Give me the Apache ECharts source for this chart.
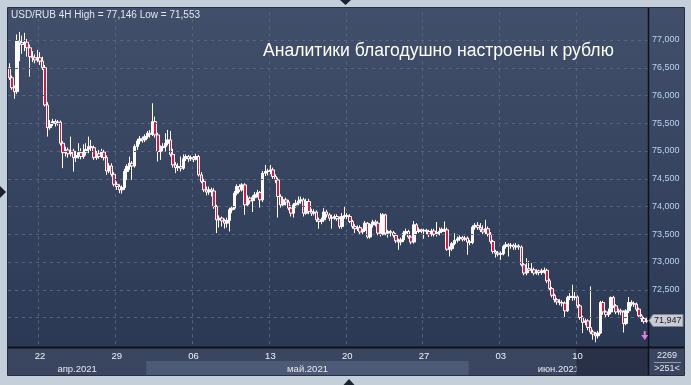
<!DOCTYPE html>
<html>
<head>
<meta charset="utf-8">
<script src="https://cdn.jsdelivr.net/npm/echarts@6/dist/echarts.min.js"></script>
<style>
html,body{margin:0;padding:0;background:#c4cfda;overflow:hidden;}
#chart{width:691px;height:385px;}
</style>
</head>
<body>
<div id="chart"></div>
<script>
// ---- data (USD/RUB, 4H bars) ----
const opens = [
76.50,76.32,76.14,76.07,76.98,76.95,76.92,76.96,76.86,76.70,
76.68,76.64,76.68,76.62,76.50,75.83,75.42,75.50,75.53,75.50,
75.52,75.14,74.97,75.02,74.95,75.00,74.88,74.92,74.97,74.90,
74.98,75.03,75.08,75.06,74.88,74.95,74.90,74.98,74.88,74.64,
74.73,74.58,74.40,74.36,74.30,74.34,74.63,74.72,74.78,74.73,
75.08,75.18,75.22,75.20,75.26,75.32,75.30,75.53,75.29,74.99,
75.06,75.08,75.14,75.20,74.94,74.75,74.70,74.72,74.69,74.86,
74.90,74.86,74.88,74.85,74.90,74.57,74.45,74.30,74.26,74.30,
74.28,74.00,73.76,73.79,73.74,73.70,73.75,73.94,73.97,74.24,
74.36,74.30,74.39,74.03,74.15,74.10,74.16,74.21,74.25,74.12,
74.60,74.63,74.64,74.66,74.54,74.48,74.18,74.03,74.12,74.08,
73.97,73.88,74.03,74.06,74.10,74.12,73.88,74.09,73.91,73.88,
73.90,73.76,73.73,73.76,73.90,73.85,73.79,73.80,73.82,73.78,
73.64,73.82,73.84,73.82,73.73,73.64,73.60,73.62,73.54,73.57,
73.70,73.45,73.67,73.72,73.70,73.52,73.50,73.85,73.52,73.55,
73.53,73.48,73.38,73.36,73.40,73.52,73.55,73.45,73.36,73.67,
73.55,73.58,73.56,73.57,73.55,73.50,73.56,73.50,73.53,73.55,
73.59,73.58,73.23,73.24,73.33,73.39,73.42,73.44,73.41,73.43,
73.36,73.35,73.63,73.66,73.62,73.58,73.54,73.60,73.50,73.37,
73.19,73.16,73.14,73.15,73.28,73.31,73.29,73.30,73.27,73.29,
73.27,72.95,72.80,72.88,72.85,72.86,72.80,72.84,72.81,72.84,
72.85,72.66,72.52,72.40,72.32,72.28,72.27,72.26,72.12,72.36,
72.38,72.36,72.37,72.21,72.00,71.91,71.94,71.82,71.74,71.70,
71.67,71.72,72.27,72.10,72.05,72.10,72.36,72.21,72.10,72.12,
72.10,71.89,72.12,72.27,72.25,72.24,72.15,72.03,71.98,71.93
];
const closes = [
76.32,76.14,76.07,76.98,76.95,76.92,76.96,76.86,76.70,76.68,
76.64,76.68,76.62,76.50,75.83,75.42,75.50,75.53,75.50,75.52,
75.14,74.97,75.02,74.95,75.00,74.88,74.92,74.97,74.90,74.98,
75.03,75.08,75.06,74.88,74.95,74.90,74.98,74.88,74.64,74.73,
74.58,74.40,74.36,74.30,74.34,74.63,74.72,74.78,74.73,75.08,
75.18,75.22,75.20,75.26,75.32,75.30,75.53,75.29,74.99,75.06,
75.08,75.14,75.20,74.94,74.75,74.70,74.72,74.69,74.86,74.90,
74.86,74.88,74.85,74.90,74.57,74.45,74.30,74.26,74.30,74.28,
74.00,73.76,73.79,73.74,73.70,73.75,73.94,73.97,74.24,74.36,
74.30,74.39,74.03,74.15,74.10,74.16,74.21,74.25,74.12,74.60,
74.63,74.64,74.66,74.54,74.48,74.18,74.03,74.12,74.08,73.97,
73.88,74.03,74.06,74.10,74.12,73.88,74.09,73.91,73.88,73.90,
73.76,73.73,73.76,73.90,73.85,73.79,73.80,73.82,73.78,73.64,
73.82,73.84,73.82,73.73,73.64,73.60,73.62,73.54,73.57,73.70,
73.45,73.67,73.72,73.70,73.52,73.50,73.85,73.52,73.55,73.53,
73.48,73.38,73.36,73.40,73.52,73.55,73.45,73.36,73.67,73.55,
73.58,73.56,73.57,73.55,73.50,73.56,73.50,73.53,73.55,73.59,
73.58,73.23,73.24,73.33,73.39,73.42,73.44,73.41,73.43,73.36,
73.35,73.63,73.66,73.62,73.58,73.54,73.60,73.50,73.37,73.19,
73.16,73.14,73.15,73.28,73.31,73.29,73.30,73.27,73.29,73.27,
72.95,72.80,72.88,72.85,72.86,72.80,72.84,72.81,72.84,72.85,
72.66,72.52,72.40,72.32,72.28,72.27,72.26,72.12,72.36,72.38,
72.36,72.37,72.21,72.00,71.91,71.94,71.82,71.74,71.70,71.67,
71.72,72.27,72.10,72.05,72.10,72.36,72.21,72.10,72.12,72.10,
71.89,72.12,72.27,72.25,72.24,72.15,72.03,71.98,71.93,71.947
];
const lows = [
76.28,76.10,75.94,76.03,76.62,76.75,76.80,76.70,76.34,76.60,
76.58,76.60,76.55,76.46,75.80,75.26,75.38,75.45,75.44,75.46,
75.10,74.69,74.90,74.88,74.90,74.63,74.80,74.86,74.85,74.86,
74.92,74.96,75.00,74.84,74.84,74.86,74.87,74.83,74.57,74.60,
74.54,74.36,74.30,74.24,74.23,74.30,74.48,74.66,74.48,74.70,
75.02,75.12,75.15,75.16,75.22,75.24,75.27,75.24,74.81,74.84,
74.98,74.99,75.10,74.90,74.70,74.60,74.64,74.63,74.66,74.82,
74.80,74.82,74.80,74.83,74.54,74.42,74.26,74.20,74.21,74.18,
73.96,73.52,73.62,73.64,73.60,73.62,73.55,73.88,73.94,74.20,
74.26,74.27,73.85,74.00,74.05,73.90,74.10,74.16,73.98,74.08,
74.55,74.56,74.58,74.50,74.42,73.80,73.98,74.00,74.02,73.93,
73.82,73.80,73.98,74.02,74.05,73.82,73.85,73.86,73.83,73.84,
73.72,73.60,73.68,73.72,73.80,73.74,73.60,73.76,73.74,73.60,
73.60,73.78,73.77,73.70,73.60,73.52,73.56,73.50,73.50,73.54,
73.42,73.42,73.62,73.64,73.48,73.46,73.48,73.48,73.44,73.46,
73.44,73.34,73.22,73.30,73.36,73.48,73.42,73.32,73.33,73.50,
73.52,73.52,73.42,73.50,73.45,73.46,73.46,73.46,73.48,73.52,
73.54,73.20,73.10,73.20,73.30,73.35,73.38,73.37,73.38,73.13,
73.30,73.32,73.58,73.58,73.54,73.50,73.50,73.46,73.33,73.15,
73.08,73.10,73.04,73.12,73.24,73.10,73.24,73.22,73.22,73.22,
72.92,72.76,72.76,72.80,72.80,72.76,72.77,72.76,72.77,72.79,
72.62,72.48,72.36,72.27,72.23,72.22,72.20,72.01,72.10,72.31,
72.30,72.31,72.17,71.96,71.72,71.86,71.77,71.70,71.60,71.553,
71.62,71.70,72.05,72.00,72.01,72.06,72.17,72.06,72.05,72.04,
71.73,71.86,72.08,72.20,72.19,72.11,71.99,71.92,71.89,71.90
];
const highs = [
76.58,76.36,76.18,77.10,77.146,77.08,77.13,77.02,76.92,76.80,
76.74,76.82,76.78,76.70,76.55,75.88,75.56,75.58,75.57,75.56,
75.55,75.18,75.08,75.06,75.26,75.04,75.00,75.14,75.05,75.12,
75.14,75.26,75.20,75.10,75.00,75.02,75.04,75.02,74.92,74.78,
74.78,74.62,74.45,74.40,74.38,74.68,74.76,74.90,74.82,75.12,
75.22,75.27,75.26,75.30,75.36,75.38,75.86,75.62,75.33,75.10,
75.14,75.32,75.38,75.36,75.04,74.80,74.78,74.90,74.94,74.94,
74.93,74.92,74.91,74.95,74.93,74.62,74.50,74.36,74.36,74.34,
74.33,74.03,73.84,73.82,73.78,73.80,73.98,74.00,74.28,74.40,
74.40,74.42,74.42,74.20,74.18,74.20,74.26,74.30,74.28,74.64,
74.75,74.68,74.75,74.70,74.58,74.52,74.22,74.18,74.16,74.12,
74.02,74.06,74.12,74.18,74.18,74.16,74.14,74.14,73.96,73.95,
73.93,73.80,73.80,73.97,73.94,73.88,73.85,73.86,73.86,73.82,
73.88,74.00,73.88,73.86,73.76,73.68,73.66,73.66,73.60,73.74,
73.72,73.70,73.76,73.76,73.74,73.88,73.88,73.87,73.58,73.58,
73.56,73.52,73.42,73.44,73.56,73.60,73.58,73.48,73.74,73.70,
73.62,73.60,73.60,73.60,73.58,73.60,73.60,73.72,73.62,73.62,
73.73,73.62,73.28,73.36,73.52,73.46,73.48,73.47,73.47,73.46,
73.40,73.66,73.70,73.72,73.70,73.66,73.76,73.64,73.54,73.40,
73.22,73.20,73.19,73.31,73.36,73.34,73.34,73.33,73.34,73.32,
73.30,72.98,73.07,73.02,72.98,72.90,72.87,72.86,72.88,72.90,
72.88,72.70,72.55,72.43,72.35,72.33,72.31,72.29,72.39,72.44,
72.59,72.46,72.40,72.24,72.03,71.98,71.97,72.56,71.78,71.74,
71.76,72.30,72.30,72.13,72.16,72.38,72.39,72.24,72.16,72.16,
72.13,72.15,72.37,72.31,72.29,72.27,72.18,72.06,72.01,71.99
];
const priceGridLines = [72.0, 72.5, 73.0, 73.5, 74.0, 74.5, 75.0, 75.5, 76.0, 76.5, 77.0];
const labelMin = 72.5, labelMax = 77.0;
const monthNames = ['янв','фев','мар','апр','май','июн','июл','авг','сен','окт','ноя','дек'];
const symbolText = 'USD/RUB 4H';
const titleText = 'Аналитики благодушно настроены к рублю';
const totalBarsText = '2269';
const visibleBarsText = '>251<';

// ---- time categories: 4H bars, Mon-Fri ----
const pad = n => (n < 10 ? '0' : '') + n;
const N = closes.length;
const dates = [];
const cats = [];
let t = Date.UTC(2021, 3, 20, 0, 0);
while (cats.length < N) {
  const d = new Date(t);
  const wd = d.getUTCDay();
  if (wd >= 1 && wd <= 5) {
    dates.push(d);
    cats.push(pad(d.getUTCDate()) + '.' + pad(d.getUTCMonth() + 1) + '.' + d.getUTCFullYear() + ' ' + pad(d.getUTCHours()) + ':00');
  }
  t += 4 * 3600 * 1000;
}
const weekIdx = new Set();
dates.forEach((d, i) => { if (d.getUTCDay() === 4 && d.getUTCHours() === 0) weekIdx.add(i); });
const months = [];
dates.forEach((d, i) => {
  if (i === 0 || d.getUTCMonth() !== dates[i - 1].getUTCMonth()) {
    months.push({ start: i, label: monthNames[d.getUTCMonth()] + '.' + d.getUTCFullYear() });
  }
});
months.forEach((m, k) => { m.end = k + 1 < months.length ? months[k + 1].start : N; });

const fmt3 = v => v.toFixed(3).replace('.', ',');
const hi = Math.max(...highs), lo = Math.min(...lows);
const FONT = "'Liberation Sans', Arial, sans-serif";

const chart = echarts.init(document.getElementById('chart'), null, { renderer: 'canvas' });
const option = {
  animation: false,
  backgroundColor: 'transparent',
  textStyle: { fontFamily: FONT },
  grid: { left: 8, right: 43, top: 12.25, bottom: 39.75, containLabel: false },
  xAxis: {
    type: 'category', data: cats, boundaryGap: true,
    axisLine: { show: false }, axisTick: { show: false },
    axisLabel: {
      interval: (i) => weekIdx.has(i),
      formatter: (v) => v.slice(0, 2),
      color: '#eef2f7', fontSize: 9.5, margin: 6, fontFamily: FONT
    },
    splitLine: { show: true, interval: (i) => weekIdx.has(i), lineStyle: { color: '#56657f', type: [3, 4], width: 1 } }
  },
  yAxis: {
    type: 'value', position: 'right', min: 71.5, max: 77.5, interval: 0.5, scale: true,
    axisLine: { show: false }, axisTick: { show: false }, splitLine: { show: false },
    axisLabel: {
      formatter: v => (v >= labelMin - 1e-9 && v <= labelMax + 1e-9) ? fmt3(v) : '',
      color: '#b9d4f2', fontSize: 9, margin: 4, fontFamily: FONT
    }
  },
  series: [
    {
      type: 'line', data: [], silent: true, z: 1,
      markLine: {
        silent: true, symbol: ['none', 'none'], label: { show: false }, animation: false,
        lineStyle: { color: '#56657f', type: [3, 4], width: 1 },
        data: priceGridLines.map(v => ({ yAxis: v }))
      }
    },
    {
      type: 'candlestick', z: 3, barWidth: 3,
      data: opens.map((o, i) => [o, closes[i], lows[i], highs[i]]),
      itemStyle: { color: '#ffffff', color0: '#e8123c', borderColor: '#ffffff', borderColor0: '#ffffff', borderWidth: 1 }
    }
  ]
};
chart.setOption(option);

// ---- decorations placed from the axes ----
const xPix = i => chart.convertToPixel({ xAxisIndex: 0 }, i);
const yPix = v => chart.convertToPixel({ yAxisIndex: 0 }, v);
const band = xPix(1) - xPix(0);
const edge = i => xPix(i) - band / 2;
const plotL = edge(0), plotR = edge(0) + band * N;
const axisY = 347.5, panelTop = 8, panelBot = 375, colR = 684;

const G = [];
G.push({ type: 'rect', z: -30, silent: true, shape: { x: 7.5, y: 7.5, width: colR - 7, height: panelBot - 7 }, style: { fill: '#3a4660', stroke: '#263044', lineWidth: 1 } });
G.push({ type: 'rect', z: -29, silent: true, shape: { x: 8, y: panelTop, width: colR - 8, height: axisY - panelTop },
  style: { fill: { type: 'linear', x: 0, y: 0, x2: 0, y2: 1, colorStops: [{ offset: 0, color: '#424f6a' }, { offset: 1, color: '#2c3954' }] } } });
// month bands and labels
months.forEach((m, k) => {
  const x0 = Math.max(plotL, edge(m.start)), x1 = Math.min(plotR, edge(m.start) + band * (m.end - m.start));
  if (k % 2 === 1) {
    G.push({ type: 'rect', z: -25, silent: true, shape: { x: x0, y: 361, width: x1 - x0, height: panelBot - 361 }, style: { fill: '#4c5a76' } });
  }
  G.push({ type: 'text', z: -20, silent: true, style: { text: m.label, x: (x0 + x1) / 2, y: 369, align: 'center', verticalAlign: 'middle', fill: '#e4e9f0', font: '9.5px ' + FONT } });
});
// dark box from the last week line to the price column
const weeks = [...weekIdx].sort((a, b) => a - b);
const lastWeek = weeks[weeks.length - 1];
G.push({ type: 'rect', z: -15, silent: true, shape: { x: edge(lastWeek), y: axisY + 1, width: plotR - edge(lastWeek), height: panelBot - axisY - 1 }, style: { fill: '#283147' } });
// separators
G.push({ type: 'line', z: 50, silent: true, shape: { x1: 8, y1: axisY, x2: colR, y2: axisY }, style: { stroke: '#0d1118', lineWidth: 2 } });
G.push({ type: 'line', z: 50, silent: true, shape: { x1: plotR + 0.5, y1: panelTop, x2: plotR + 0.5, y2: panelBot }, style: { stroke: '#0d1118', lineWidth: 1.5 } });
// bottom-right cell
G.push({ type: 'text', z: 50, silent: true, style: { text: totalBarsText, x: 667, y: 356, align: 'center', verticalAlign: 'middle', fill: '#e4e9f0', font: '9px ' + FONT } });
G.push({ type: 'line', z: 50, silent: true, shape: { x1: 654, y1: 362.5, x2: 681, y2: 362.5 }, style: { stroke: '#8f9bb0', lineWidth: 1 } });
G.push({ type: 'text', z: 50, silent: true, style: { text: visibleBarsText, x: 667, y: 369, align: 'center', verticalAlign: 'middle', fill: '#e4e9f0', font: '9px ' + FONT } });
// header and title
G.push({ type: 'text', z: 50, silent: true, style: { text: symbolText + ' High = ' + fmt3(hi) + ' Low = ' + fmt3(lo), x: 11, y: 15, verticalAlign: 'middle', fill: '#dfe7f1', font: '10px ' + FONT } });
G.push({ type: 'text', z: 50, silent: true, style: { text: titleText, x: 263, y: 51, verticalAlign: 'middle', fill: '#ffffff', font: '17.6px ' + FONT } });
// current price tag
const lastClose = closes[N - 1];
const py = Math.round(yPix(lastClose)) + 0.5;
G.push({ type: 'polygon', z: 60, silent: true, shape: { points: [[plotR + 1, py], [plotR + 5, py - 6], [colR - 1, py - 6], [colR - 1, py + 6], [plotR + 5, py + 6]] }, style: { fill: '#c9cdd3', stroke: '#7c8594', lineWidth: 1 } });
G.push({ type: 'text', z: 61, silent: true, style: { text: fmt3(lastClose), x: plotR + 6, y: py, verticalAlign: 'middle', fill: '#1a1d22', font: '9px ' + FONT } });
// pink arrow under last bar
const ax = xPix(N - 1) - 2, ay = yPix(lows[N - 1]) + 8;
G.push({ type: 'rect', z: 60, silent: true, shape: { x: ax - 1, y: ay, width: 2, height: 5 }, style: { fill: '#e07ae6' } });
G.push({ type: 'polygon', z: 60, silent: true, shape: { points: [[ax - 3.5, ay + 4], [ax + 3.5, ay + 4], [ax, ay + 9]] }, style: { fill: '#e07ae6' } });
// small frame triangles
G.push({ type: 'polygon', z: 60, silent: true, shape: { points: [[340, 0], [351, 0], [345.5, 5]] }, style: { fill: '#1b2232' } });
G.push({ type: 'polygon', z: 60, silent: true, shape: { points: [[343.5, 385], [354.5, 385], [349, 379]] }, style: { fill: '#1b2232' } });
G.push({ type: 'polygon', z: 60, silent: true, shape: { points: [[0, 186], [0, 198], [6, 192]] }, style: { fill: '#1b2232' } });

chart.setOption({ graphic: { elements: G } });
</script>
</body>
</html>
